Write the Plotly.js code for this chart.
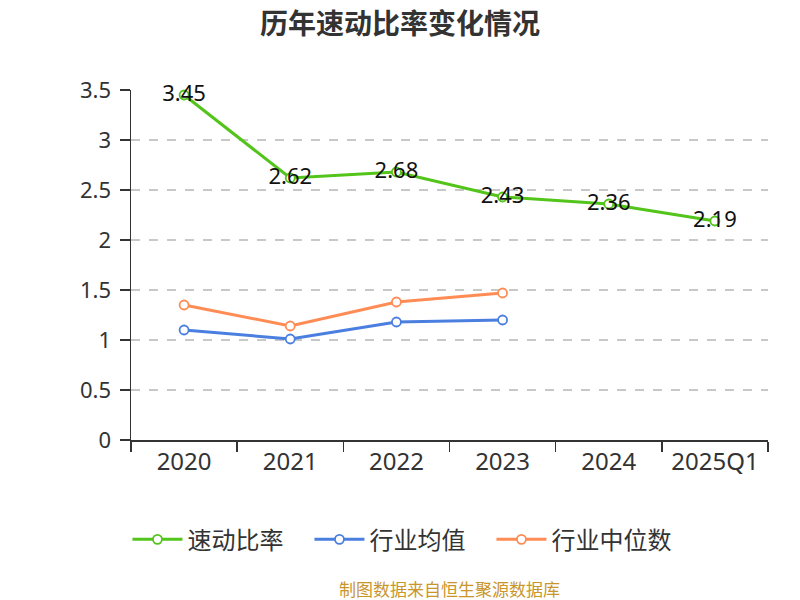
<!DOCTYPE html>
<html><head><meta charset="utf-8">
<script src="https://cdn.plot.ly/plotly-3.0.1.min.js"></script>
<style>body{margin:0;padding:0;background:#fff}#chart{width:800px;height:600px}</style>
</head><body><div id="chart"></div>
<script>
const categories = ['2020','2021','2022','2023','2024','2025Q1'];
const quickRatio = [3.45, 2.62, 2.68, 2.43, 2.36, 2.19];
const industryMean = [1.10, 1.01, 1.18, 1.20];
const industryMedian = [1.35, 1.14, 1.38, 1.47];
const quickLabels = ['3.45','2.62','2.68','2.43','2.36','2.19'];
const tickVals = [0,0.5,1,1.5,2,2.5,3,3.5];
const tickText = ['0','0.5','1','1.5','2','2.5','3','3.5'];

const font = '"Noto Sans", "Noto Sans CJK SC", sans-serif';
const cjk = '"Noto Sans CJK SC", "Noto Sans", sans-serif';
const traces = [
  {x: categories, y: quickRatio, name: '速动比率', type: 'scatter', mode: 'lines+markers+text',
   text: quickLabels, textposition: 'middle center', textfont: {size: 22, color: '#111', family: font},
   line: {color: '#52c41a', width: 3}, marker: {size: 9, color: '#fff', line: {color: '#52c41a', width: 1.8}}, cliponaxis: false},
  {x: categories.slice(0,4), y: industryMean, name: '行业均值', type: 'scatter', mode: 'lines+markers',
   line: {color: '#4a7fe0', width: 3}, marker: {size: 9, color: '#fff', line: {color: '#4a7fe0', width: 1.8}}, cliponaxis: false},
  {x: categories.slice(0,4), y: industryMedian, name: '行业中位数', type: 'scatter', mode: 'lines+markers',
   line: {color: '#ff8c55', width: 3}, marker: {size: 9, color: '#fff', line: {color: '#ff8c55', width: 1.8}}, cliponaxis: false}
];
const layout = {
  width: 800, height: 600,
  margin: {l: 131, r: 32, t: 90, b: 160},
  paper_bgcolor: '#fff', plot_bgcolor: '#fff',
  font: {family: font, color: '#333'},
  title: {text: '<b>历年速动比率变化情况</b>', x: 0.5, xanchor: 'center', y: 0.96, yanchor: 'middle',
          font: {size: 28, color: '#333', family: cjk}},
  showlegend: true,
  legend: {orientation: 'h', x: 0.423, xanchor: 'center', y: -0.285, yanchor: 'middle',
           font: {size: 24, color: '#333', family: cjk}, itemwidth: 50, entrywidth: 117, entrywidthmode: 'pixels', tracegroupgap: 0},
  xaxis: {type: 'category', tickson: 'boundaries', ticks: 'outside', ticklen: 10, tickwidth: 1.5, tickcolor: '#333',
          showline: true, linecolor: '#333', linewidth: 1.5, showgrid: false, zeroline: false,
          tickfont: {size: 24, color: '#333', family: font}, range: [-0.5, 5.5], fixedrange: true},
  yaxis: {range: [0, 3.5], tickvals: tickVals, ticktext: tickText, ticks: 'outside', ticklen: 10, tickwidth: 1.5, tickcolor: '#333',
          showline: true, linecolor: '#333', linewidth: 1.5, zeroline: false, ticklabelstandoff: 4,
          showgrid: true, gridcolor: '#c8c8c8', griddash: 'dash', gridwidth: 1.5,
          tickfont: {size: 22, color: '#333', family: font}, fixedrange: true},
  annotations: [{text: '制图数据来自恒生聚源数据库', xref: 'paper', yref: 'paper', x: 0.5, y: -0.424,
                 xanchor: 'center', yanchor: 'middle', showarrow: false,
                 font: {size: 17, color: '#c9962b', family: cjk}}]
};
Plotly.newPlot('chart', traces, layout, {displayModeBar: false, staticPlot: true});
</script></body></html>
